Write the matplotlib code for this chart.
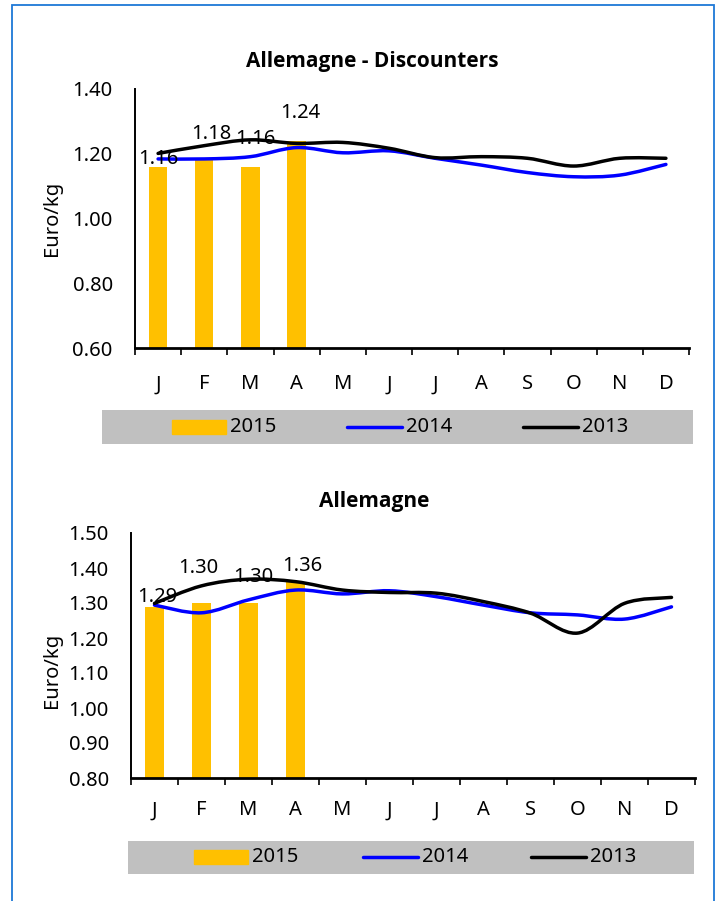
import matplotlib
matplotlib.use("Agg")
import matplotlib.pyplot as plt
from matplotlib.path import Path
from matplotlib.patches import PathPatch, Rectangle
from matplotlib.lines import Line2D
import numpy as np

plt.rcParams['font.family'] = ['Noto Sans', 'DejaVu Sans']

months = ['J', 'F', 'M', 'A', 'M', 'J', 'J', 'A', 'S', 'O', 'N', 'D']
series_names = ['2015', '2014', '2013']

# Chart 1: Allemagne - Discounters
disc_2015 = [1.16, 1.18, 1.16, 1.24]
disc_2014 = [1.184, 1.184, 1.191, 1.219, 1.203, 1.209, 1.186, 1.165, 1.142, 1.129, 1.134, 1.167]
disc_2013 = [1.201, 1.225, 1.243, 1.232, 1.235, 1.217, 1.188, 1.191, 1.186, 1.162, 1.186, 1.186]
disc_yticks = [0.60, 0.80, 1.00, 1.20, 1.40]

# Chart 2: Allemagne
all_2015 = [1.29, 1.30, 1.30, 1.36]
all_2014 = [1.294, 1.272, 1.309, 1.337, 1.326, 1.335, 1.318, 1.294, 1.272, 1.266, 1.254, 1.289]
all_2013 = [1.299, 1.349, 1.368, 1.361, 1.337, 1.330, 1.328, 1.304, 1.271, 1.214, 1.299, 1.316]
all_yticks = [0.80, 0.90, 1.00, 1.10, 1.20, 1.30, 1.40, 1.50]

# label offsets (pixels) for the data labels of 2015 bars
disc_lab_off = [(0, 8), (7, 26), (5, 28), (4, 28)]
all_lab_off = [(3, 10), (-3, 35), (5, 26), (7, 16)]

W, H = 719, 901
fig = plt.figure(figsize=(W / 100, H / 100), dpi=100)
fig.patch.set_facecolor('white')

BAR = '#FFC000'
BLUE = '#0000FF'
BLACK = '#000000'
GRAY = '#C0C0C0'
FS = 14.5
TITLE_FONT = ['Open Sans', 'Lato', 'DejaVu Sans']


def px_axes(left, top, width, height):
    return fig.add_axes([left / W, 1 - (top + height) / H, width / W, height / H])


def smooth_path(xs, ys):
    pts = np.column_stack([xs, ys]).astype(float)
    n = len(pts)
    verts = [pts[0]]
    codes = [Path.MOVETO]
    for i in range(n - 1):
        p0 = pts[i - 1] if i > 0 else pts[i]
        p1 = pts[i]
        p2 = pts[i + 1]
        p3 = pts[i + 2] if i + 2 < n else pts[i + 1]
        c1 = p1 + (p2 - p0) / 6.0
        c2 = p2 - (p3 - p1) / 6.0
        verts += [c1, c2, p2]
        codes += [Path.CURVE4] * 3
    return Path(verts, codes)


def draw_chart(ax, bars, s2014, s2013, yticks, lab_off, xpad, ypad):
    x = np.arange(len(months))
    ax.bar(x[:len(bars)], bars, width=0.4, color=BAR, zorder=1)
    for vals, col in [(s2014, BLUE), (s2013, BLACK)]:
        pp = PathPatch(smooth_path(x, vals), fill=False, edgecolor=col, lw=2.5,
                       capstyle='round', joinstyle='round', zorder=3)
        ax.add_patch(pp)
    for i, v in enumerate(bars):
        dx, dy = lab_off[i]
        ax.annotate(f'{v:.2f}', xy=(i, v), xytext=(dx * 0.72, dy * 0.72),
                    textcoords='offset points', ha='center', va='center',
                    fontsize=FS, zorder=4)
    ax.set_xlim(-0.5, 11.5)
    ax.set_ylim(yticks[0], yticks[-1])
    ax.set_yticks(yticks)
    ax.set_yticklabels([f'{t:.2f}' for t in yticks], fontsize=FS)
    ax.tick_params(axis='y', length=0, pad=ypad)
    ax.set_xticks(np.arange(-0.5, 12, 1))
    ax.set_xticklabels([])
    ax.tick_params(axis='x', which='major', length=5, width=1.2, direction='out')
    ax.set_xticks(x, minor=True)
    ax.set_xticklabels(months, minor=True, fontsize=FS)
    ax.tick_params(axis='x', which='minor', length=0, pad=xpad)
    for s in ['top', 'right']:
        ax.spines[s].set_visible(False)
    ax.spines['bottom'].set_linewidth(2.0)
    ax.spines['left'].set_linewidth(1.4)
    ax.set_ylabel('Euro/kg', fontsize=FS)
    ax.set_facecolor('none')


def draw_legend(left, top, width, height, patch_x, line1_x, line2_x, ymid):
    lax = px_axes(left, top, width, height)
    lax.set_xlim(left, left + width)
    lax.set_ylim(top + height, top)
    lax.set_facecolor(GRAY)
    lax.set_xticks([])
    lax.set_yticks([])
    for s in lax.spines.values():
        s.set_visible(False)
    lax.add_patch(Rectangle((patch_x, ymid - 7), 54, 14, color=BAR))
    lax.text(patch_x + 58, ymid, series_names[0], va='center', ha='left', fontsize=FS)
    lax.add_line(Line2D([line1_x, line1_x + 55], [ymid, ymid], color=BLUE, lw=2.5,
                        solid_capstyle='round'))
    lax.text(line1_x + 59, ymid, series_names[1], va='center', ha='left', fontsize=FS)
    lax.add_line(Line2D([line2_x, line2_x + 55], [ymid, ymid], color=BLACK, lw=2.5,
                        solid_capstyle='round'))
    lax.text(line2_x + 59, ymid, series_names[2], va='center', ha='left', fontsize=FS)


ax1 = px_axes(135, 89, 554, 259)
draw_chart(ax1, disc_2015, disc_2014, disc_2013, disc_yticks, disc_lab_off, 19, 16)
ax1.yaxis.set_label_coords(62 / W, 1 - 218 / H, transform=fig.transFigure)
fig.text(372.5 / W, 1 - 62 / H, 'Allemagne - Discounters', ha='center', va='center',
         fontsize=15, fontweight='bold', family=TITLE_FONT)

ax2 = px_axes(131, 533, 564, 245)
draw_chart(ax2, all_2015, all_2014, all_2013, all_yticks, all_lab_off, 16, 16)
ax2.yaxis.set_label_coords(62 / W, 1 - 670 / H, transform=fig.transFigure)
fig.text(374 / W, 1 - 501 / H, 'Allemagne', ha='center', va='center',
         fontsize=15, fontweight='bold', family=TITLE_FONT)

draw_legend(102, 410, 591, 34, 172, 347, 523, 427)
draw_legend(128, 841, 566, 33, 194, 363, 531, 857)

fig.patches.append(Rectangle((11.5 / W, -0.01), (714 - 11.5) / W, 1.01 - 4.5 / H,
                             transform=fig.transFigure, fill=False,
                             edgecolor='#1E78D7', lw=1.3))

fig.savefig('out.png', dpi=100)
